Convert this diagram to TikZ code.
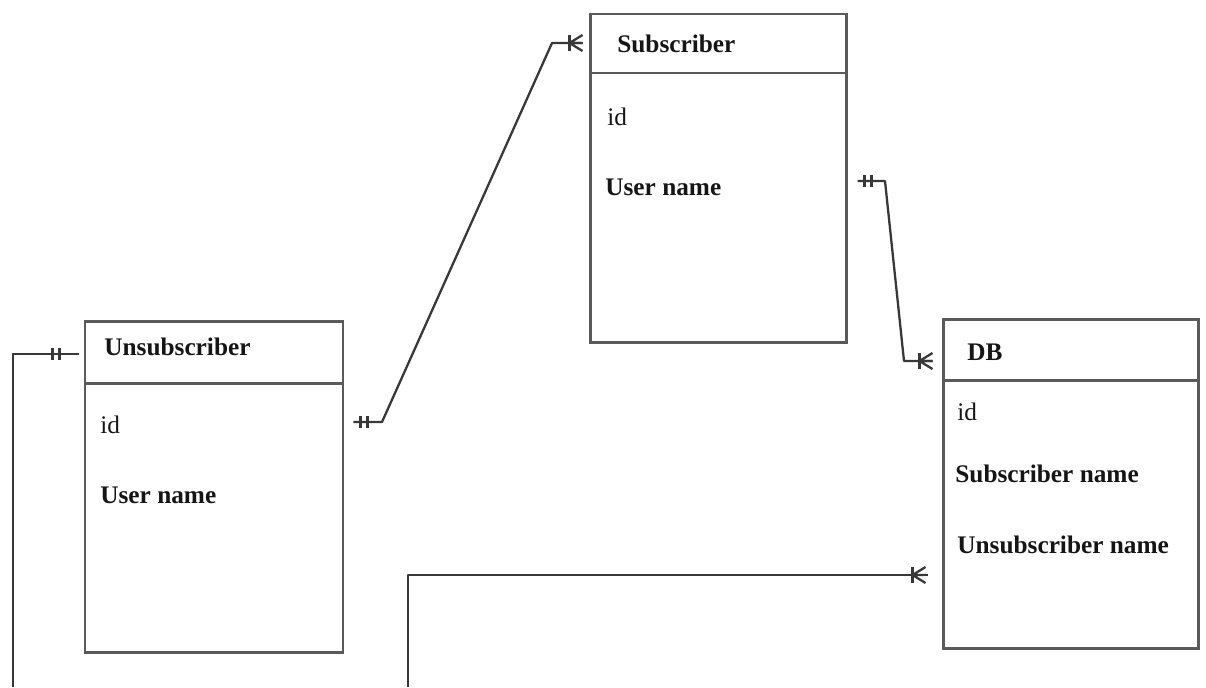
\documentclass[tikz,border=0pt]{standalone}
\usepackage{fontspec}
\setmainfont{Liberation Serif}
\usetikzlibrary{calc,fit}
\definecolor{boxgray}{HTML}{5A5A5A}
\definecolor{linegray}{HTML}{383838}
\definecolor{txt}{HTML}{151515}
\tikzset{
  entity/.style={draw=boxgray, line width=1.7pt, inner sep=0pt, rectangle},
  divider/.style={draw=boxgray, line width=1.7pt},
  conn/.style={draw=linegray, line width=1.3pt, line join=round},
  hdr/.style={anchor=base west, inner sep=0pt, text=txt, font=\fontsize{14.4}{17}\selectfont\bfseries},
  attr/.style={anchor=base west, inner sep=0pt, text=txt, font=\fontsize{14.4}{17}\selectfont\bfseries},
  attrreg/.style={anchor=base west, inner sep=0pt, text=txt, font=\fontsize{14.4}{17}\selectfont},
  crowfoot/.pic={\draw[conn] (0,-8)--(0,8); \draw[conn] (0,0)--(13,-8) (0,0)--(13,0) (0,0)--(13,8);},
  onebar/.pic={\draw[conn] (0,-6)--(0,6) (7,-6)--(7,6);}
}
\begin{document}
\begin{tikzpicture}[x=0.02cm,y=-0.02cm]
\useasboundingbox (0,0) rectangle (1206,687);

% entities
\node[entity, fit={(590,14) (846,342)}] (sub) {};
\node[entity, fit={(85,321) (343,652)}] (unsub) {};
\node[entity, fit={(943,319) (1198,648)}] (db) {};
\draw[divider] (sub.west |- 0,73) -- (sub.east |- 0,73);
\draw[divider] (unsub.west |- 0,383) -- (unsub.east |- 0,383);
\draw[divider] (db.west |- 0,380) -- (db.east |- 0,380);

% texts
\node[hdr] (subh) at (617,52) {Subscriber};
\node[attrreg] (subid) at (607,125) {id};
\node[attr] (subun) at (605,195) {User name};

\node[hdr] (unsubh) at (104,355) {Unsubscriber};
\node[attrreg] (unsubid) at (100,433) {id};
\node[attr] (unsubun) at (100,503) {User name};

\node[hdr] (dbh) at (967,360) {DB};
\node[attrreg] (dbid) at (957,420) {id};
\node[attr] (dbsn) at (955,482) {Subscriber name};
\node[attr] (dbun) at (957,553) {Unsubscriber name};

% connector Unsubscriber -- Subscriber
\coordinate (a1) at (unsub.east |- 0,422);
\coordinate (a2) at (sub.west |- 0,43);
\draw[conn] ($(a1)+(9,0)$) -- (382,422) -- (552,43) -- ($(a2)+(-6,0)$);
\pic at ($(a1)+(16,0)$) {onebar};
\pic at ($(a2)+(-19,0)$) {crowfoot};

% connector Subscriber -- DB
\coordinate (b1) at (sub.east |- 0,181);
\coordinate (b2) at (db.west |- 0,361);
\draw[conn] ($(b1)+(10,0)$) -- (885,181) -- (904,361) -- ($(b2)+(-9,0)$);
\pic at ($(b1)+(17,0)$) {onebar};
\pic at ($(b2)+(-22,0)$) {crowfoot};

% connector Unsubscriber (left) -- bottom
\coordinate (c1) at (unsub.west |- 0,354);
\coordinate (cb) at (13,687);
\draw[conn] ($(c1)+(-5,0)$) -- (13,354) -- (cb);
\pic at ($(c1)+(-31,0)$) {onebar};

% connector bottom -- DB
\coordinate (d1) at (db.west |- 0,575);
\coordinate (db0) at (408,687);
\draw[conn] (db0) -- (408,575) -- ($(d1)+(-14,0)$);
\pic at ($(d1)+(-29,0)$) {crowfoot};
\end{tikzpicture}
\end{document}
